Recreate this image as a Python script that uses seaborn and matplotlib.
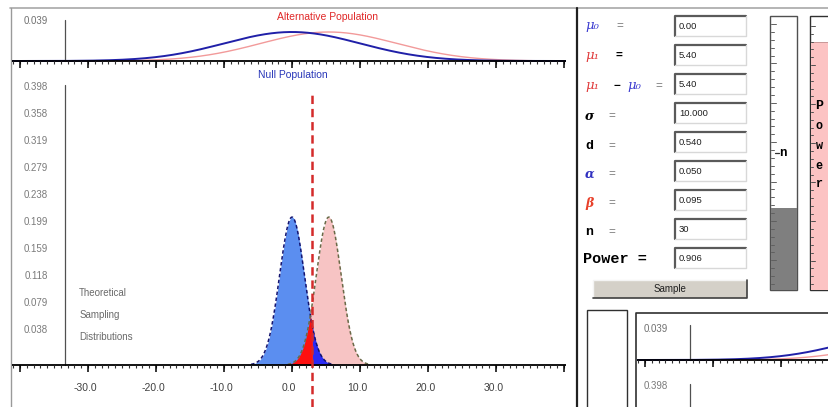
import numpy as np
import pandas as pd
import matplotlib
matplotlib.use("Agg")
import matplotlib.pyplot as plt
from matplotlib.patches import Rectangle
import seaborn as sns

sns.set_style("white")
plt.rcParams["font.family"] = ["Liberation Sans", "DejaVu Sans"]
plt.rcParams["lines.scale_dashes"] = False

W, H = 829, 407

# ---- test settings -------------------------------------------------------
mu0 = 0.0
mu1 = 5.4
sigma = 10.0
n = 30
n_max = 100
alpha = 0.05
z_crit = 1.6449            # one-tailed critical z for alpha = 0.05
beta = 0.095
power = 0.906

field_values = ["0.00", "5.40", "5.40", "10.000", "0.540", "0.050", "0.095", "30", "0.906"]

x_ticks = [-30, -20, -10, 0, 10, 20, 30]
x_tick_labels = ["-30.0", "-20.0", "-10.0", "0.0", "10.0", "20.0", "30.0"]
y_ticks = [0.0399, 0.0798, 0.1197, 0.1596, 0.1995, 0.2394, 0.2793, 0.3192, 0.3590, 0.3989]
y_tick_labels = ["0.038", "0.079", "0.118", "0.159", "0.199", "0.238", "0.279", "0.319", "0.358", "0.398"]
pop_y_label = "0.039"

# ---- geometry -------------------------------------------------------------
XLIM = (-41.18, 40.29)
YAXIS_X = -33.4
MAIN_PX = 1 / 676.9          # data units per pixel, sampling panel
TOP_PX = 1 / 727.0           # data units per pixel, population panel
MAIN_YLIM = (-42 * MAIN_PX, 295 * MAIN_PX)
TOP_YLIM = (-9 * TOP_PX, 51 * TOP_PX)

fig = plt.figure(figsize=(W / 100, H / 100), dpi=100)


def px_axes(x0, y0, x1, y1, z=1):
    ax = fig.add_axes([x0 / W, 1 - y1 / H, (x1 - x0) / W, (y1 - y0) / H])
    ax.set_zorder(z)
    ax.patch.set_alpha(0)
    ax.axis("off")
    return ax


def normal_pdf(x, m, s):
    return np.exp(-0.5 * ((x - m) / s) ** 2) / (s * np.sqrt(2 * np.pi))


def draw_x_axis(ax, upx):
    ax.plot(XLIM, [0, 0], color="black", lw=1.3, solid_capstyle="butt", zorder=6)
    ax.vlines(np.arange(-41, 41), -3 * upx, 0, color="#303030", lw=0.8, zorder=6)
    ax.vlines(np.arange(-40, 41, 10), -7 * upx, 0, color="black", lw=1.1, zorder=6)


def draw_panel(ox, oy, full=True):
    # population distributions
    top = px_axes(12 + ox, 10 + oy, 566 + ox, 70 + oy)
    xs = np.linspace(XLIM[0], XLIM[1], 1200)
    pop = pd.DataFrame({"x": xs,
                        "null": normal_pdf(xs, mu0, sigma),
                        "alt": normal_pdf(xs, mu1, sigma)})
    sns.lineplot(data=pop, x="x", y="alt", ax=top, color="#f29a9a", lw=1.0)
    sns.lineplot(data=pop, x="x", y="null", ax=top, color="#2020a8", lw=1.4)
    draw_x_axis(top, TOP_PX)
    ytop = 41 if full else 35
    top.plot([YAXIS_X, YAXIS_X], [0, ytop * TOP_PX], color="#505050", lw=0.9)
    top.text(YAXIS_X - (2.5 if full else 3.3), (40 if full else 31) * TOP_PX, pop_y_label,
             ha="right", va="center", fontsize=7, color="#707070")
    if full:
        top.text(5.2, 44 * TOP_PX, "Alternative Population", ha="center", va="center",
                 fontsize=7.5, color="#e02828")
    top.set_xlim(XLIM)
    top.set_ylim(TOP_YLIM)
    top.axis("off")

    # sampling distributions
    ax = px_axes(12 + ox, 70 + oy, 566 + ox, 407 + oy)
    ax.plot([YAXIS_X, YAXIS_X], [0, 280 * MAIN_PX], color="#505050", lw=0.9)
    if not full:
        ax.text(YAXIS_X - 3.3, y_ticks[-1] + 8 * MAIN_PX, y_tick_labels[-1], ha="right",
                va="center", fontsize=7, color="#7a7a7a")
        ax.set_xlim(XLIM)
        ax.set_ylim(MAIN_YLIM)
        ax.axis("off")
        return
    se = sigma / np.sqrt(n)
    crit = mu0 + z_crit * se
    xs = np.linspace(mu0 - 5 * se, mu1 + 5 * se, 1500)
    null_pdf = normal_pdf(xs, mu0, se)
    alt_pdf = normal_pdf(xs, mu1, se)
    overlap = np.minimum(null_pdf, alt_pdf)
    ax.fill_between(xs, alt_pdf, color="#f7c4c4", lw=0, zorder=1)
    ax.fill_between(xs, null_pdf, color="#5b8ef0", lw=0, zorder=2)
    left = xs <= crit
    ax.fill_between(xs[left], overlap[left], color="#ff1010", lw=0, zorder=3)
    ax.fill_between(xs[~left], overlap[~left], color="#2a2af5", lw=0, zorder=3)
    samp = pd.DataFrame({"x": xs, "null": null_pdf, "alt": alt_pdf})
    sns.lineplot(data=samp[np.abs(samp.x - mu0) < 3.3 * se], x="x", y="null", ax=ax,
                 color="#141470", lw=1.1, linestyle=(0, (2.5, 1.8)), zorder=4)
    sns.lineplot(data=samp[np.abs(samp.x - mu1) < 3.3 * se], x="x", y="alt", ax=ax,
                 color="#6a6a48", lw=1.1, linestyle=(0, (2.5, 1.8)), zorder=4)
    draw_x_axis(ax, MAIN_PX)
    ax.plot([crit, crit], [MAIN_YLIM[0], 270 * MAIN_PX], color="#d42a2a", lw=1.8,
            linestyle=(0, (6, 3.5)), zorder=7)
    for v, lab in zip(y_ticks, y_tick_labels):
        ax.text(YAXIS_X - 2.5, v + 8 * MAIN_PX, lab, ha="right", va="center",
                fontsize=7, color="#7a7a7a")
    for v, lab in zip(x_ticks, x_tick_labels):
        ax.text(v - 0.4, -23 * MAIN_PX, lab, ha="center", va="center",
                fontsize=7.5, color="#404040")
    ax.text(mu0 + 0.1, 290 * MAIN_PX, "Null Population", ha="center", va="center",
            fontsize=7.5, color="#2836b8")
    for i, word in enumerate(["Theoretical", "Sampling", "Distributions"]):
        ax.text(-31.3, (72 - 22 * i) * MAIN_PX, word, ha="left", va="center",
                fontsize=7, color="#6a6a6a")
    ax.set_xlim(XLIM)
    ax.set_ylim(MAIN_YLIM)
    ax.axis("off")


# ---- window chrome and controls (pixel coordinates) -----------------------
ui = px_axes(0, 0, W, H, z=0)
ui.set_xlim(0, W)
ui.set_ylim(H, 0)

ui.plot([10, W], [8, 8], color="#a8a8a8", lw=1.2)
ui.plot([11, 11], [8, H], color="#9a9a9a", lw=1.0)
ui.plot([577, 577], [8, H], color="#202020", lw=1.6)

# field labels
serif = ["DejaVu Serif"]
mono = ["Liberation Mono", "DejaVu Sans Mono"]
blue, red = "#3b3bd0", "#e03a3a"
label_rows = [26, 56, 86, 116, 146, 174, 203, 232, 259]
ui.text(585, label_rows[0], "μ₀", family=serif, style="italic", fontsize=9.5, color=blue, va="center")
ui.text(616, label_rows[0], "=", fontsize=8.5, color="#808080", va="center")
ui.text(585, label_rows[1], "μ₁", family=serif, style="italic", fontsize=9.5, color=red, va="center")
ui.text(616, label_rows[1], "=", fontsize=8.5, weight="bold", color="black", va="center")
ui.text(585, label_rows[2], "μ₁", family=serif, style="italic", fontsize=9.5, color=red, va="center")
ui.text(614, label_rows[2], "−", fontsize=8.5, weight="bold", color="black", va="center")
ui.text(627, label_rows[2], "μ₀", family=serif, style="italic", fontsize=9.5, color=blue, va="center")
ui.text(655, label_rows[2], "=", fontsize=8.5, color="#808080", va="center")
ui.text(585, label_rows[3], "σ", family=serif, style="italic", weight="bold", fontsize=9, color="black", va="center")
ui.text(585, label_rows[4], "d", family=mono, weight="bold", fontsize=9.5, color="black", va="center")
ui.text(585, label_rows[5], "α", family=serif, style="italic", weight="bold", fontsize=9, color="#3030c0", va="center")
ui.text(585, label_rows[6], "β", family=serif, style="italic", weight="bold", fontsize=9, color="#e8402a", va="center")
ui.text(585, label_rows[7], "n", family=mono, weight="bold", fontsize=9.5, color="black", va="center")
for r in label_rows[3:8]:
    ui.text(608, r, "=", fontsize=8.5, color="#808080", va="center")
ui.text(583, label_rows[8], "Power =", family=mono, weight="bold", fontsize=11, color="black", va="center")

# text fields
for i, val in enumerate(field_values):
    y0 = 16 + 29 * i
    ui.add_patch(Rectangle((675, y0), 71, 20, facecolor="white", edgecolor="none"))
    ui.plot([675, 675, 746], [y0 + 20, y0, y0], color="#5a5a5a", lw=1.6)
    ui.plot([675, 746, 746], [y0 + 20, y0 + 20, y0], color="#d8d8d8", lw=1.0)
    ui.text(679, y0 + 10.5, val, fontsize=6.8, color="#202020", va="center")

# sample button
ui.add_patch(Rectangle((593, 280), 154, 18, facecolor="#d4d0c8", edgecolor="none"))
ui.plot([593, 593, 747], [298, 280, 280], color="#f4f4f4", lw=1.0)
ui.plot([593, 747, 747], [298, 298, 280], color="#404040", lw=1.2)
ui.text(670, 289, "Sample", fontsize=7, color="#202020", ha="center", va="center")

# sample-size gauge
bar_top, bar_bot = 16, 290
span = bar_bot - bar_top
ui.add_patch(Rectangle((770, bar_top), 27, span, facecolor="white", edgecolor="#505050", lw=1.0))
ui.add_patch(Rectangle((771, bar_bot - span * n / n_max), 26, span * n / n_max,
                       facecolor="#7f7f7f", edgecolor="none"))
for k, ty in enumerate(np.linspace(bar_top + 8, bar_bot - 6, 34)):
    ui.plot([771, 774 if k % 5 else 776], [ty, ty], color="#606060", lw=0.7)
ui.plot([775, 779], [153, 153], color="#303030", lw=0.9)
ui.text(783, 153, "n", family=mono, weight="bold", fontsize=9, color="black", ha="center", va="center")

# power gauge
ui.add_patch(Rectangle((810, bar_top), 30, span, facecolor="white", edgecolor="#303030", lw=1.0))
ui.add_patch(Rectangle((811, bar_bot - span * power), 29, span * power,
                       facecolor="#fcc3c3", edgecolor="none"))
ui.plot([811, W], [bar_bot - span * power] * 2, color="#c09090", lw=0.6)
for k, ty in enumerate(np.linspace(bar_top + 10, bar_bot - 6, 34)):
    ui.plot([811, 813 if k % 5 else 815], [ty, ty], color="#505050", lw=0.7)
for ch, ty in zip("Power", [106, 126, 146, 166, 184]):
    ui.text(819, ty, ch, family=mono, weight="bold", fontsize=9.5 if ch == "P" else 8.5,
            color="black", ha="center", va="center")

# lower-right sample panel frames
ui.add_patch(Rectangle((587, 310), 40, 110, facecolor="white", edgecolor="#303030", lw=1.0))
ui.plot([636, 636, W], [H, 313, 313], color="#303030", lw=1.2)

# ---- plots ----------------------------------------------------------------
draw_panel(0, 0)
draw_panel(625, 299, full=False)

fig.savefig("out.png", dpi=100, facecolor="white")
